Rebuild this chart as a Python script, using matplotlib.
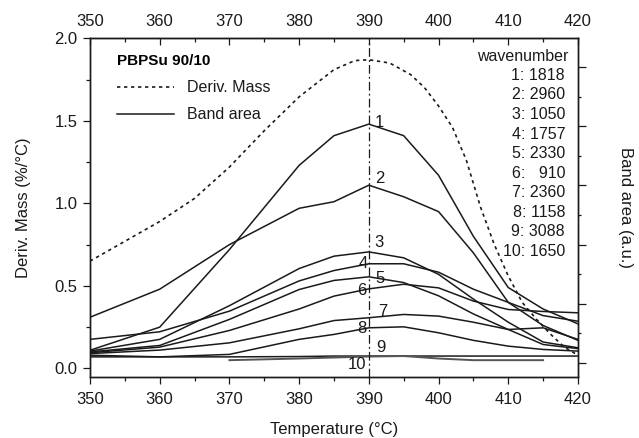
import matplotlib
matplotlib.use('Agg')
import matplotlib.pyplot as plt
from matplotlib.ticker import MultipleLocator

plt.rcParams['font.family'] = ['Liberation Sans', 'DejaVu Sans']

# temperatures where the band areas were measured
temps = [350, 360, 370, 380, 385, 390, 395, 400, 405, 410, 415, 420]

band1 = [0.11, 0.25, 0.72, 1.23, 1.41, 1.48, 1.41, 1.17, 0.80, 0.49, 0.36, 0.27]
band2 = [0.31, 0.48, 0.75, 0.97, 1.01, 1.11, 1.04, 0.95, 0.70, 0.40, 0.26, 0.17]
band3 = [0.105, 0.176, 0.38, 0.605, 0.68, 0.706, 0.67, 0.57, 0.42, 0.28, 0.16, 0.125]
band4 = [0.176, 0.222, 0.347, 0.53, 0.593, 0.634, 0.634, 0.583, 0.48, 0.40, 0.32, 0.286]
band5 = [0.10, 0.139, 0.297, 0.478, 0.533, 0.555, 0.52, 0.44, 0.33, 0.236, 0.145, 0.12]
band6 = [0.095, 0.129, 0.23, 0.36, 0.438, 0.482, 0.51, 0.488, 0.408, 0.357, 0.345, 0.337]
band7 = [0.09, 0.111, 0.155, 0.24, 0.29, 0.307, 0.327, 0.317, 0.28, 0.236, 0.246, 0.176]
band8 = [0.08, 0.07, 0.085, 0.176, 0.206, 0.246, 0.252, 0.216, 0.17, 0.135, 0.115, 0.105]
band9 = [0.07, 0.07, 0.07, 0.072, 0.075, 0.075, 0.075, 0.075, 0.075, 0.075, 0.075, 0.075]

# band 10 only measured from 370 to 415
temps10 = [370, 380, 390, 395, 400, 405, 410, 415]
band10 = [0.05, 0.06, 0.072, 0.075, 0.06, 0.05, 0.05, 0.05]

# derivative of mass loss (DTG)
mass_temps = [350, 355, 360, 365, 370, 375, 380, 385, 388, 390, 393, 396, 398,
              400, 402, 404, 406, 408, 410, 412, 414, 416, 418, 420]
deriv_mass = [0.65, 0.77, 0.89, 1.03, 1.22, 1.44, 1.645, 1.81, 1.865, 1.87, 1.85,
              1.78, 1.70, 1.59, 1.46, 1.26, 0.98, 0.75, 0.56, 0.40, 0.30, 0.21,
              0.13, 0.08]

wavenumbers = [1818, 2960, 1050, 1757, 2330, 910, 2360, 1158, 3088, 1650]
peak_temp = 390

bands = [band1, band2, band3, band4, band5, band6, band7, band8, band9]

# where the curve numbers sit relative to the curve value at the peak
label_offsets = [(1.5, 0.01), (1.6, 0.04), (1.4, 0.055), (-0.8, 0.0), (1.6, -0.012),
                 (-1.0, -0.01), (2.0, 0.04), (-1.0, -0.006), (1.8, 0.054), (-1.7, -0.048)]

fig = plt.figure(figsize=(6.39, 4.38), dpi=100)
ax = fig.add_axes([0.1408, 0.1400, 0.7637, 0.7726])
ink = '#1a1a1a'

ax.plot(mass_temps, deriv_mass, color=ink, lw=1.2, dashes=(2, 2.2), label='Deriv. Mass')
for i, b in enumerate(bands):
    ax.plot(temps, b, color=ink, lw=1.1, label='Band area' if i == 0 else None)
ax.plot(temps10, band10, color='#555555', lw=1.4)

ax.axvline(peak_temp, color=ink, lw=0.9, dashes=(7, 2.5, 1.5, 2.5))

# curve numbers
for i, (dx, dy) in enumerate(label_offsets):
    if i < 9:
        y0 = bands[i][temps.index(peak_temp)]
    else:
        y0 = band10[temps10.index(peak_temp)]
    ax.text(peak_temp + dx, y0 + dy, str(i + 1), fontsize=12, color=ink,
            ha='center', va='center')

# wavenumber list
ax.text(418.6, 1.89, 'wavenumber', fontsize=11.5, color=ink, ha='right', va='center')
for i, w in enumerate(wavenumbers):
    s = f'{i + 1}: {w}' if w >= 1000 else f'{i + 1}:   {w}'
    ax.text(418.15, 1.775 - i * 0.1185, s, fontsize=11.5, color=ink,
            ha='right', va='center')

leg = ax.legend(loc='upper left', bbox_to_anchor=(0.025, 0.995), frameon=False,
                fontsize=11.5, handlelength=3.6, handletextpad=0.8,
                labelspacing=0.75, title='PBPSu 90/10',
                title_fontproperties={'weight': 'bold', 'size': 11},
                alignment='left')
for t in leg.get_texts():
    t.set_color(ink)

ax.set_xlim(350, 420)
ax.set_ylim(-0.05, 2.0)
ax.xaxis.set_major_locator(MultipleLocator(10))
ax.xaxis.set_minor_locator(MultipleLocator(5))
ax.yaxis.set_major_locator(MultipleLocator(0.5))
ax.yaxis.set_minor_locator(MultipleLocator(0.25))
ax.yaxis.set_major_formatter(plt.FormatStrFormatter('%.1f'))
ax.tick_params(which='both', direction='out', labelsize=12, colors=ink, width=0.9)
ax.tick_params(which='major', length=5, pad=4)
ax.tick_params(which='minor', length=3)
ax.tick_params(axis='x', which='major', pad=6)

top = ax.secondary_xaxis('top')
top.xaxis.set_major_locator(MultipleLocator(10))
top.xaxis.set_minor_locator(MultipleLocator(5))
top.tick_params(which='both', direction='in', labelsize=12, colors=ink, width=0.9)
top.tick_params(which='major', length=5, pad=7)
top.tick_params(which='minor', length=3)

ax2 = ax.twinx()
ax2.set_ylim(-0.236, 5.49)
ax2.yaxis.set_major_locator(MultipleLocator(1))
ax2.yaxis.set_minor_locator(MultipleLocator(0.5))
ax2.tick_params(which='both', direction='out', labelright=False, colors=ink, width=0.9)
ax2.tick_params(which='major', length=5.5)
ax2.tick_params(which='minor', length=2.5)
ax2.set_ylabel('Band area (a.u.)', rotation=270, fontsize=12, color=ink, labelpad=34)

for a in (ax, ax2):
    for sp in a.spines.values():
        sp.set_linewidth(1.0)
        sp.set_color(ink)

ax.set_xlabel('Temperature (°C)', fontsize=12, color=ink, labelpad=11)
ax.set_ylabel('Deriv. Mass (%/°C)', fontsize=12, color=ink, labelpad=17)

fig.savefig('out.png', dpi=100)
